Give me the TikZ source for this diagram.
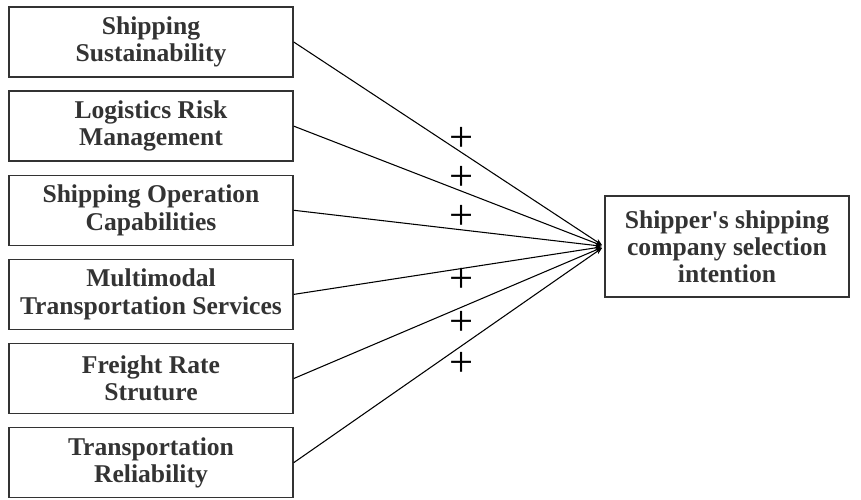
\documentclass[tikz,border=0pt]{standalone}
\usepackage{fontspec}
\setmainfont{Liberation Serif}
\usetikzlibrary{positioning,arrows.meta}

\begin{document}
\begin{tikzpicture}[
    x=0.75pt, y=-0.75pt,
    node distance=9.5pt,
    factor/.style={rectangle, draw=black!80, line width=1.1pt, minimum width=213pt, minimum height=52.5pt, align=center, inner sep=2pt, font=\fontsize{19.2}{20.4}\selectfont\bfseries, text=black!80},
    outcome/.style={factor, minimum width=183pt, minimum height=75.75pt},
    arrow/.style={-{Stealth[length=5pt,width=4pt]}, line width=0.8pt, shorten >=2pt},
    sign/.style={font=\fontsize{32}{32}\selectfont, inner sep=0pt},
]
\useasboundingbox (0,0) rectangle (861,500);

% ---------- factors ----------
\node[factor] (sust) at (151,42) {Shipping\\Sustainability};
\node[factor, below=of sust] (risk) {Logistics Risk\\Management};
\node[factor, below=of risk] (oper) {Shipping Operation\\Capabilities};
\node[factor, below=of oper] (multi) {Multimodal\\Transportation Services};
\node[factor, below=of multi] (rate) {Freight Rate\\Struture};
\node[factor, below=of rate] (reli) {Transportation\\Reliability};

% ---------- outcome ----------
\node[outcome] (intent) at (727,246.5) {Shipper\textquotesingle s shipping\\company selection\\intention};

\draw[arrow] (sust.east) -- (intent.west);
\draw[arrow] (risk.east) -- (intent.west);
\draw[arrow] (oper.east) -- (intent.west);
\draw[arrow] (multi.east) -- (intent.west);
\draw[arrow] (rate.east) -- (intent.west);
\draw[arrow] (reli.east) -- (intent.west);

% ---------- signs ----------
\node[sign] (s1) at (462,139) {+};
\node[sign] (s2) at (462,178) {+};
\node[sign] (s3) at (462,217) {+};
\node[sign] (s4) at (462,280) {+};
\node[sign] (s5) at (462,323) {+};
\node[sign] (s6) at (462,364) {+};

\end{tikzpicture}
\end{document}
